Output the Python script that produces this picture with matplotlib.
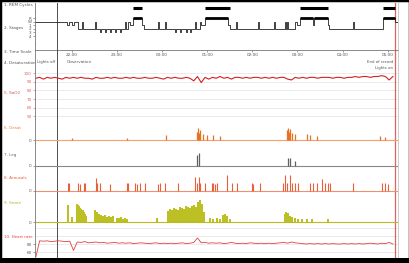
import numpy as np
import matplotlib.pyplot as plt
from matplotlib.patches import Rectangle

# ---- data (time in hours, 24.5 = 00:30) ----
t_start, t_end = 21.18, 29.23
lights_off, lights_on = 21.67, 29.16
hour_ticks = [22, 23, 24, 25, 26, 27, 28, 29]
hour_labels = ["22:00", "23:00", "00:00", "01:00", "02:00", "03:00", "04:00", "05:00"]

rem_start = [23.35, 24.95, 27.06, 28.90]
rem_end = [23.55, 25.50, 27.68, 29.16]

stage_order = ["R", "W", "1", "2", "3", "4"]
hyp_t = [21.18, 21.89, 21.93, 22.00, 22.04, 22.13, 22.22, 22.24, 22.51, 22.53,
         22.62, 22.64, 22.73, 22.75, 22.84, 22.86, 22.95, 22.98, 23.06, 23.09,
         23.18, 23.20, 23.24, 23.29, 23.35, 23.55, 23.60, 23.91, 23.93, 24.06,
         24.08, 24.28, 24.31, 24.39, 24.42, 24.53, 24.55, 24.62, 24.64, 24.73,
         24.75, 24.84, 24.86, 24.95, 25.46, 25.50, 25.64, 25.66, 26.12, 26.15,
         26.48, 26.50, 26.72, 26.75, 26.77, 26.79, 26.94, 26.99, 27.06, 27.34,
         27.37, 27.68, 27.70, 28.23, 28.25, 28.90, 29.16, 29.23]
hyp_stage = ["W", "1", "W", "1", "W", "2", "W", "2", "W", "2",
             "3", "2", "3", "2", "3", "2", "3", "2", "3", "2",
             "W", "2", "W", "1", "R", "1", "2", "W", "2", "W",
             "2", "3", "2", "3", "2", "3", "2", "3", "2", "W",
             "2", "W", "1", "R", "1", "2", "W", "2", "W", "2",
             "W", "2", "W", "2", "W", "2", "W", "1", "R", "1",
             "R", "1", "2", "W", "2", "R", "W", "W"]

# SaO2 and heart rate, one sample every 5 minutes from 21:12
trace_t0 = 21.2
sao2 = [94, 95, 93, 95, 94, 95, 94, 93, 95, 94, 95, 94,
        95, 94, 94, 93, 95, 94, 94, 95, 94, 95, 94, 94,
        95, 94, 95, 94, 94, 95, 94, 94, 95, 94, 93, 95,
        94, 95, 94, 94, 95, 94, 91, 96, 89, 95, 93, 95,
        94, 96, 94, 95, 93, 95, 95, 94, 95, 94, 95, 95,
        94, 95, 94, 95, 94, 95, 95, 93, 92, 95, 94, 95,
        94, 95, 95, 94, 95, 95, 95, 94, 95, 95, 94, 95,
        95, 96, 95, 96, 96, 95, 96, 96, 97, 96, 92, 96]
heart_rate = [48, 88, 87, 88, 86, 87, 88, 87, 86, 87, 64, 85,
              84, 86, 83, 84, 85, 83, 84, 82, 83, 84, 82, 83,
              82, 83, 81, 82, 83, 82, 81, 82, 83, 81, 82, 81,
              82, 81, 82, 83, 81, 82, 84, 95, 83, 84, 82, 83,
              82, 83, 81, 82, 84, 82, 81, 82, 81, 83, 82, 81,
              82, 81, 82, 81, 82, 83, 84, 82, 85, 83, 82, 81,
              80, 81, 80, 81, 80, 81, 80, 81, 80, 80, 81, 80,
              81, 80, 81, 80, 81, 82, 81, 80, 82, 81, 84, 80]

desat_t = [22.00, 23.22, 24.08, 24.77, 24.79, 24.82, 24.84, 24.90, 24.99, 25.13,
           25.28, 26.77, 26.79, 26.81, 26.83, 26.88, 26.94, 27.21, 27.28, 27.43,
           28.83, 28.94]
desat_h = [0.2, 0.2, 0.4, 0.7, 1.0, 0.6, 0.8, 0.5, 0.45, 0.45,
           0.3, 0.8, 1.0, 0.7, 0.9, 0.6, 0.5, 0.5, 0.4, 0.35,
           0.3, 0.25]

leg_t = [24.77, 24.82, 26.79, 26.83, 26.94]
leg_h = [0.9, 1.1, 0.7, 0.7, 0.45]

arousal_t = [21.91, 21.93, 22.13, 22.18, 22.27, 22.29, 22.53, 22.55, 22.62, 22.84,
             23.22, 23.24, 23.40, 23.44, 23.51, 23.62, 23.91, 23.95, 24.06, 24.35,
             24.73, 24.77, 24.82, 24.84, 24.95, 25.10, 25.13, 25.17, 25.22, 25.44,
             25.55, 25.66, 25.99, 26.01, 26.17, 26.68, 26.72, 26.77, 26.83, 26.88,
             26.94, 27.01, 27.28, 27.34, 27.43, 27.54, 27.61, 27.68, 27.72, 28.23,
             28.87, 28.94, 29.01]
arousal_h = [1.0, 1.0, 1.0, 0.9, 1.0, 1.0, 1.6, 1.0, 1.0, 0.9,
             1.0, 1.0, 1.0, 0.9, 1.0, 1.0, 0.9, 1.0, 1.0, 1.0,
             1.8, 1.0, 1.8, 1.0, 1.0, 1.0, 1.0, 0.9, 1.0, 2.0,
             1.0, 1.0, 1.0, 0.9, 1.0, 1.0, 2.0, 1.0, 2.0, 1.0,
             1.0, 1.0, 1.0, 1.0, 1.0, 1.5, 1.0, 1.0, 1.0, 1.0,
             1.0, 1.0, 0.9]

snore_t = [21.91, 22.00, 22.11, 22.13, 22.16, 22.18, 22.20, 22.22, 22.24, 22.27,
           22.29, 22.31, 22.51, 22.55, 22.60, 22.64, 22.68, 22.73, 22.77, 22.82,
           22.86, 22.91, 23.00, 23.04, 23.09, 23.13, 23.18, 23.22, 23.88, 24.13,
           24.17, 24.22, 24.26, 24.31, 24.35, 24.39, 24.44, 24.48, 24.53, 24.57,
           24.62, 24.66, 24.71, 24.75, 24.79, 24.84, 24.88, 24.93, 25.06, 25.13,
           25.22, 25.28, 25.35, 25.39, 25.44, 25.50, 26.72, 26.75, 26.79, 26.83,
           26.88, 26.94, 27.01, 27.10, 27.21, 27.32, 27.68]
snore_h = [1.7, 0.5, 1.8, 1.7, 1.6, 1.4, 1.3, 1.1, 1.2, 1.0,
           0.8, 0.6, 1.2, 1.0, 0.8, 0.7, 0.6, 0.7, 0.5, 0.6,
           0.5, 0.6, 0.4, 0.4, 0.5, 0.3, 0.4, 0.3, 0.4, 1.1,
           1.3, 1.2, 1.4, 1.3, 1.2, 1.5, 1.4, 1.3, 1.6, 1.5,
           1.4, 1.6, 1.7, 1.5, 2.0, 2.2, 1.8, 1.0, 0.4, 0.3,
           0.4, 0.3, 0.7, 0.8, 0.6, 0.3, 0.8, 1.0, 0.9, 0.6,
           0.5, 0.4, 0.3, 0.3, 0.3, 0.3, 0.3]

# ---- layout helpers (pixel boxes) ----
W, H = 410, 263
fig = plt.figure(figsize=(W / 100, H / 100), dpi=100)
fig.patch.set_facecolor("white")


def row(y0, y1):
    ax = fig.add_axes([35 / W, 1 - y1 / H, (398 - 35) / W, (y1 - y0) / H])
    ax.set_xlim(t_start, t_end)
    ax.set_xticks([])
    ax.patch.set_alpha(0)
    for s in ["top", "bottom"]:
        ax.spines[s].set_visible(False)
    ax.spines["left"].set_color("#777777")
    ax.spines["left"].set_linewidth(0.6)
    ax.spines["right"].set_color("#bbbbbb")
    ax.spines["right"].set_linewidth(0.5)
    ax.tick_params(axis="y", length=1.5, width=0.4, labelsize=3, pad=1, colors="#555555")
    ax.axvline(lights_off, color="#333333", lw=0.6)
    ax.axvline(lights_on, color="#d03030", lw=0.9, alpha=0.75)
    return ax


def label(y, text, color="#555555"):
    fig.text(4 / W, 1 - y / H, text, fontsize=3.0, va="center", color=color)


def grid(ax):
    ax.grid(axis="y", color="#bbbbbb", lw=0.4, ls=(0, (1, 1)))


# 1. REM cycles
ax1 = row(3, 12)
ax1.set_ylim(0, 1)
ax1.set_yticks([])
ax1.hlines([0.45] * len(rem_start), rem_start, rem_end, color="black", lw=2.2)
label(5, "1. REM Cycles")

# 2. Stages
ax2 = row(12, 44)
levels = [stage_order.index(s) for s in hyp_stage]
ax2.step(hyp_t, levels, where="post", color="#222222", lw=0.6)
for i, s in enumerate(hyp_stage[:-1]):
    if s == "R":
        ax2.hlines(0, hyp_t[i], hyp_t[i + 1], color="black", lw=2.0)
ax2.set_ylim(7.2, -1.7)
ax2.set_yticks(range(len(stage_order)))
ax2.set_yticklabels(stage_order)
label(28, "2. Stages")

# 3. Time scale
ax3 = row(44, 50)
ax3.set_ylim(0, 1)
ax3.set_yticks([])
ax3.spines["bottom"].set_visible(True)
ax3.spines["bottom"].set_color("#777777")
ax3.spines["bottom"].set_linewidth(0.6)
ax3.set_xticks(hour_ticks)
ax3.set_xticklabels(hour_labels)
ax3.tick_params(axis="x", length=1.5, width=0.4, labelsize=3, pad=1, colors="#555555")
label(52, "3. Time Scale")

# 4. Desaturation header with markers
ax4 = row(50, 70)
ax4.set_ylim(0, 1)
ax4.set_yticks([])
ax4.text(lights_off - 0.03, 0.4, "Lights off", fontsize=2.8, ha="right", va="center", color="#555555")
ax4.text(21.89, 0.4, "Observation", fontsize=3, ha="left", va="center", color="#555555")
ax4.text(lights_on - 0.04, 0.42, "End of record", fontsize=2.8, ha="right", va="center", color="#555555")
ax4.text(lights_on - 0.04, 0.12, "Lights on", fontsize=2.8, ha="right", va="center", color="#555555")
label(63, "4. Desaturation")

# 5. SaO2
ax5 = row(70, 119)
sao2_t = trace_t0 + np.arange(len(sao2)) / 12
ax5.plot(sao2_t, sao2, color="#d42020", lw=0.8)
ax5.set_ylim(47, 103.5)
ax5.set_yticks([50, 60, 70, 80, 90, 100])
ax5.tick_params(axis="y", colors="#e06060")
grid(ax5)
label(93, "5. SaO2", "#e05050")

# 6. Desat events
ax6 = row(119, 143)
ax6.set_ylim(-0.25, 1.75)
ax6.set_yticks([0])
ax6.axhline(0, color="#f4a070", lw=0.8)
ax6.vlines(desat_t, 0, desat_h, color="#e87020", lw=0.9)
label(128, "6. Desat", "#f08040")

# 7. Leg
ax7 = row(143, 168)
ax7.set_ylim(-0.17, 1.92)
ax7.set_yticks([0])
ax7.axhline(0, color="#888888", lw=0.8)
ax7.vlines(leg_t, 0, leg_h, color="#606060", lw=0.9)
label(155, "7. Leg", "#666666")

# 8. Arousals
ax8 = row(168, 194)
ax8.set_ylim(-0.375, 2.875)
ax8.set_yticks([0])
ax8.axhline(0, color="#f09070", lw=0.8)
ax8.vlines(arousal_t, 0, arousal_h, color="#e8603a", lw=0.8)
label(178, "8. Arousals", "#e86040")

# 9. Snore
ax9 = row(194, 226)
ax9.set_ylim(-0.4, 2.8)
ax9.set_yticks([0])
ax9.axhline(0, color="#b8bc20", lw=0.8)
ax9.bar(snore_t, snore_h, width=0.05, color="#bcc024", linewidth=0)
label(203, "9. Snore", "#b0b420")

# 10. Heart rate
ax10 = row(226, 258)
hr_t = trace_t0 + np.arange(len(heart_rate)) / 12
ax10.plot(hr_t, heart_rate, color="#e04040", lw=0.6)
ax10.set_ylim(45, 125)
ax10.set_yticks([60, 80])
ax10.set_yticks([100, 120], minor=True)
ax10.tick_params(axis="y", which="minor", length=0)
ax10.grid(axis="y", which="both", color="#bbbbbb", lw=0.4, ls=(0, (1, 1)))
label(237, "10. Heart rate", "#e04040")

# frame of the scanned figure
fig.add_artist(Rectangle((0, 0), 1, 1, transform=fig.transFigure, fill=False,
                         edgecolor="black", lw=2.5))
fig.add_artist(Rectangle((0, 0), 1, 5 / H, transform=fig.transFigure,
                         facecolor="black", edgecolor="none"))

fig.savefig("out.png", dpi=100)
